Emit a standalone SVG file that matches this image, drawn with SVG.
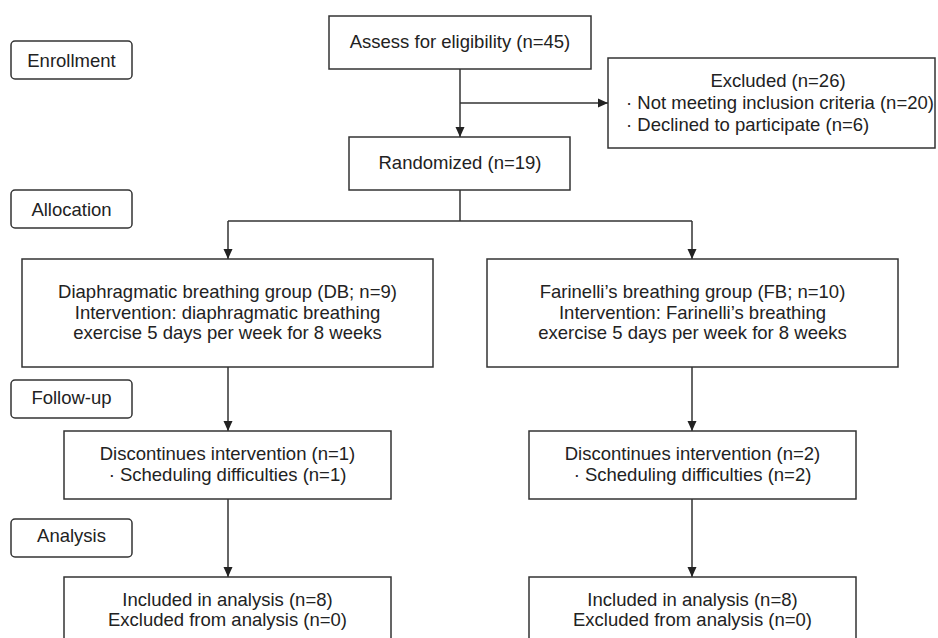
<svg xmlns="http://www.w3.org/2000/svg" width="938" height="638" viewBox="0 0 938 638">
<style>
.box{fill:#fff;stroke:#333;stroke-width:1.5}
.stage{fill:#fff;stroke:#333;stroke-width:1.5}
.t{font-family:"Liberation Sans",Arial,sans-serif;font-size:18.5px;fill:#222}
.c{text-anchor:middle}
.ln{fill:none;stroke:#333;stroke-width:1.5}
</style>
<defs>
<marker id="ah" markerUnits="userSpaceOnUse" markerWidth="12" markerHeight="12" viewBox="0 0 12 12" refX="11" refY="6" orient="auto">
<path d="M1,1.5 L11,6 L1,10.5 Z" fill="#222"/>
</marker>
</defs>
<rect width="938" height="638" fill="#fff"/>

<g id="stage-enrollment"><rect class="stage" x="11" y="41" width="121" height="38" rx="4"/><text class="t c" x="71.5" y="67">Enrollment</text></g>
<g id="stage-allocation"><rect class="stage" x="11" y="190" width="121" height="38" rx="4"/><text class="t c" x="71.5" y="216">Allocation</text></g>
<g id="stage-followup"><rect class="stage" x="11" y="380" width="121" height="38" rx="4"/><text class="t c" x="71.5" y="404">Follow-up</text></g>
<g id="stage-analysis"><rect class="stage" x="11" y="519" width="121" height="38" rx="4"/><text class="t c" x="71.5" y="542">Analysis</text></g>

<g id="connectors">
<line class="ln" x1="460" y1="69" x2="460" y2="137" marker-end="url(#ah)"/>
<line class="ln" x1="460" y1="103" x2="608" y2="103" marker-end="url(#ah)"/>
<polyline class="ln" points="460,190 460,221"/>
<line class="ln" x1="228" y1="221" x2="692" y2="221"/>
<line class="ln" x1="228" y1="221" x2="228" y2="259" marker-end="url(#ah)"/>
<line class="ln" x1="692" y1="221" x2="692" y2="259" marker-end="url(#ah)"/>
<line class="ln" x1="228" y1="367" x2="228" y2="431" marker-end="url(#ah)"/>
<line class="ln" x1="692" y1="367" x2="692" y2="431" marker-end="url(#ah)"/>
<line class="ln" x1="228" y1="499" x2="228" y2="577" marker-end="url(#ah)"/>
<line class="ln" x1="692" y1="499" x2="692" y2="577" marker-end="url(#ah)"/>
</g>

<g id="assess"><rect class="box" x="329" y="16" width="262" height="53"/><text class="t c" x="460" y="48">Assess for eligibility (n=45)</text></g>
<g id="excluded"><rect class="box" x="608" y="58" width="327" height="90"/>
<text class="t c" x="778" y="87">Excluded (n=26)</text>
<text class="t" x="626" y="109">· Not meeting inclusion criteria (n=20)</text>
<text class="t" x="626" y="131">· Declined to participate (n=6)</text></g>
<g id="randomized"><rect class="box" x="349" y="137" width="221" height="53"/><text class="t c" x="460" y="169">Randomized (n=19)</text></g>

<g id="db-group"><rect class="box" x="22" y="259" width="411" height="108"/>
<text class="t c" x="227.5" y="298">Diaphragmatic breathing group (DB; n=9)</text>
<text class="t c" x="227.5" y="319">Intervention: diaphragmatic breathing</text>
<text class="t c" x="227.5" y="339">exercise 5 days per week for 8 weeks</text></g>
<g id="fb-group"><rect class="box" x="487" y="259" width="411" height="108"/>
<text class="t c" x="692.5" y="298">Farinelli’s breathing group (FB; n=10)</text>
<text class="t c" x="692.5" y="319">Intervention: Farinelli’s breathing</text>
<text class="t c" x="692.5" y="339">exercise 5 days per week for 8 weeks</text></g>

<g id="db-discontinued"><rect class="box" x="64" y="431" width="327" height="68"/>
<text class="t c" x="227.5" y="460">Discontinues intervention (n=1)</text>
<text class="t c" x="227.5" y="481">· Scheduling difficulties (n=1)</text></g>
<g id="fb-discontinued"><rect class="box" x="529" y="431" width="327" height="68"/>
<text class="t c" x="692.5" y="460">Discontinues intervention (n=2)</text>
<text class="t c" x="692.5" y="481">· Scheduling difficulties (n=2)</text></g>

<g id="db-analysis"><rect class="box" x="64" y="577" width="327" height="70"/>
<text class="t c" x="227.5" y="606">Included in analysis (n=8)</text>
<text class="t c" x="227.5" y="626">Excluded from analysis (n=0)</text></g>
<g id="fb-analysis"><rect class="box" x="529" y="577" width="327" height="70"/>
<text class="t c" x="692.5" y="606">Included in analysis (n=8)</text>
<text class="t c" x="692.5" y="626">Excluded from analysis (n=0)</text></g>
</svg>
